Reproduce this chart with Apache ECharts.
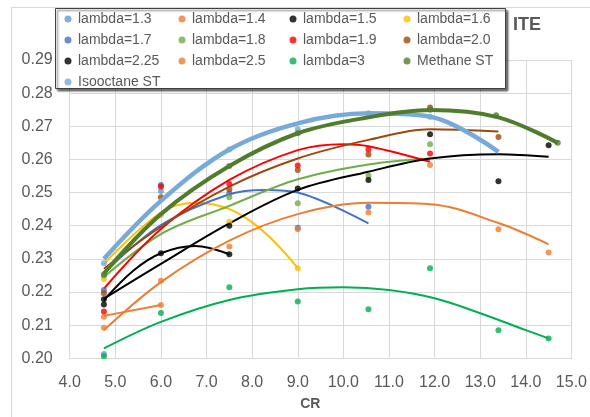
<!DOCTYPE html>
<html>
<head>
<meta charset="utf-8">
<script src="https://cdn.jsdelivr.net/npm/echarts@6/dist/echarts.min.js"></script>
<style>html,body{margin:0;padding:0;background:#fff;}#c{width:590px;height:417px;}</style>
</head>
<body>
<div id="c"></div>
<script>
// ---- tick labels ----
const xTicks = [4.0,5.0,6.0,7.0,8.0,9.0,10.0,11.0,12.0,13.0,14.0,15.0];
const yTicks = [0.20,0.21,0.22,0.23,0.24,0.25,0.26,0.27,0.28,0.29];

// ---- measured points [CR, ITE] ----
const lambda13 = [[4.75,0.2013],[6.0,0.2505]];
const lambda14 = [[4.75,0.2125],[6.0,0.2161]];
const lambda15 = [[4.75,0.2178],[6.0,0.2317],[7.5,0.2314]];
const lambda16 = [[4.75,0.2239],[6.0,0.2432],[7.5,0.2412],[9.0,0.2272]];
const lambda17 = [[4.75,0.2206],[6.0,0.2523],[7.5,0.2498],[9.0,0.2394],[10.55,0.2457]];
const lambda18 = [[4.75,0.2250],[7.5,0.2486],[9.0,0.2468],[10.55,0.2551],[11.9,0.2646]];
const lambda19 = [[4.75,0.2141],[6.0,0.2518],[7.5,0.2526],[9.0,0.2582],[10.55,0.2630],[11.9,0.2618]];
const lambda20 = [[4.75,0.2196],[6.0,0.2486],[7.5,0.2510],[9.0,0.2568],[10.55,0.2615],[11.9,0.2757],[13.4,0.2668]];
const lambda225 = [[4.75,0.2162],[7.5,0.2400],[9.0,0.2512],[10.55,0.2538],[11.9,0.2676],[13.4,0.2534],[14.5,0.2643]];
const lambda25 = [[4.75,0.2092],[6.0,0.2234],[7.5,0.2337],[9.0,0.2389],[10.55,0.2440],[11.9,0.2583],[13.4,0.2389],[14.5,0.2319]];
const lambda3 = [[4.75,0.2006],[6.0,0.2137],[7.5,0.2214],[9.0,0.2171],[10.55,0.2148],[11.9,0.2272],[13.4,0.2085],[14.5,0.2060]];
const isoST = [[4.75,0.2287],[7.5,0.2630],[9.0,0.2691],[10.55,0.2739],[11.9,0.2729]];
const methST = [[4.75,0.2253],[7.5,0.2580],[9.0,0.2679],[11.9,0.2750],[13.35,0.2733],[14.7,0.2650]];

// ---- trendlines [CR, ITE] ----
const trend14 = [[4.75,0.2128],[6.0,0.2161]];
const trend15 = [[4.75,0.2176],[5.4,0.2265],[6.0,0.2317],[6.75,0.2339],[7.5,0.2314]];
const trend16 = [[4.75,0.2285],[6.0,0.2440],[6.8,0.2469],[7.5,0.2450],[8.0,0.2410],[8.5,0.2350],[9.0,0.2272]];
const trend17 = [[4.75,0.2258],[6.0,0.2402],[7.5,0.2495],[8.3,0.2508],[9.0,0.2500],[10.55,0.2407]];
const trend18 = [[4.75,0.2245],[6.0,0.2375],[7.5,0.2460],[9.0,0.2540],[10.55,0.2585],[11.9,0.2603]];
const trend19 = [[4.75,0.2210],[6.0,0.2390],[7.5,0.2538],[9.0,0.2628],[10.0,0.2646],[10.55,0.2640],[11.9,0.2593]];
const trend20 = [[4.75,0.2270],[6.0,0.2397],[7.5,0.2518],[9.0,0.2603],[10.55,0.2659],[11.9,0.2691],[13.4,0.2684]];
const trend225 = [[4.75,0.2180],[6.0,0.2285],[7.5,0.2407],[9.0,0.2508],[10.55,0.2563],[11.9,0.2603],[13.4,0.2616],[14.5,0.2608]];
const trend25 = [[4.75,0.2085],[6.0,0.2230],[7.5,0.2355],[9.0,0.2435],[10.55,0.2469],[11.9,0.2465],[13.4,0.2408],[14.5,0.2344]];
const trend3 = [[4.75,0.2030],[6.0,0.2110],[7.5,0.2176],[9.0,0.2208],[10.0,0.2214],[11.0,0.2206],[12.0,0.2181],[13.0,0.2136],[14.0,0.2085],[14.5,0.2060]];
const trendIso = [[4.75,0.2300],[6.0,0.2475],[7.5,0.2630],[9.0,0.2709],[10.55,0.2739],[11.9,0.2729],[13.4,0.2623]];
const trendMeth = [[4.75,0.2256],[6.0,0.2435],[7.5,0.2580],[9.0,0.2679],[10.55,0.2727],[11.9,0.2749],[13.4,0.2727],[14.7,0.2650]];

const C = {
  l13:'#5B9BD5', l14:'#ED7D31', l15:'#000000', l16:'#FFC000', l17:'#4472C4', l18:'#70AD47',
  l19:'#FF0000', l20:'#9E480E', l225:'#000000', l25:'#ED7D31', l3:'#00B050', iso:'#75AADB', meth:'#4F7D2C'
};

function pts(name, data, color, z) {
  return {type:'scatter', name:name, data:data, symbol:'circle', symbolSize:6,
          itemStyle:{color:color}, z:z||3, silent:true};
}
function fit(name, data, color, width, z, smooth) {
  return {type:'line', name:name+' fit', data:data, showSymbol:false, symbol:'none',
          smooth: smooth===undefined ? 0.35 : smooth,
          lineStyle:{color:color, width:width}, z:z||2, silent:true};
}

const series = [
  pts('lambda=1.3', lambda13, C.l13),
  pts('lambda=1.4', lambda14, C.l14), fit('lambda=1.4', trend14, C.l14, 2, 2, false),
  pts('lambda=1.5', lambda15, C.l15), fit('lambda=1.5', trend15, C.l15, 2),
  pts('lambda=1.6', lambda16, C.l16), fit('lambda=1.6', trend16, C.l16, 2),
  pts('lambda=1.7', lambda17, C.l17), fit('lambda=1.7', trend17, C.l17, 2),
  pts('lambda=1.8', lambda18, C.l18), fit('lambda=1.8', trend18, C.l18, 2),
  pts('lambda=1.9', lambda19, C.l19), fit('lambda=1.9', trend19, C.l19, 2),
  pts('lambda=2.0', lambda20, C.l20), fit('lambda=2.0', trend20, C.l20, 2),
  pts('lambda=2.25', lambda225, C.l225), fit('lambda=2.25', trend225, C.l225, 2),
  pts('lambda=2.5', lambda25, C.l25), fit('lambda=2.5', trend25, C.l25, 2),
  pts('lambda=3', lambda3, C.l3), fit('lambda=3', trend3, C.l3, 2),
  pts('Isooctane ST', isoST, C.iso, 4), fit('Isooctane ST', trendIso, C.iso, 4.5, 4),
  pts('Methane ST', methST, C.meth, 5), fit('Methane ST', trendMeth, C.meth, 4, 5)
];

const legendCols = [
  {left:64.5, names:['lambda=1.3','lambda=1.7','lambda=2.25','Isooctane ST']},
  {left:178.5, names:['lambda=1.4','lambda=1.8','lambda=2.5']},
  {left:289.5, names:['lambda=1.5','lambda=1.9','lambda=3']},
  {left:403.5, names:['lambda=1.6','lambda=2.0','Methane ST']}
];

const font = 'Liberation Sans, Arial, sans-serif';
const chart = echarts.init(document.getElementById('c'), null, {renderer:'canvas'});
chart.setOption({
  animation:false,
  backgroundColor:'#fff',
  grid:{left:69.7, right:15.7, top:60, bottom:58.7, containLabel:false},
  xAxis:{type:'value', min:xTicks[0], max:xTicks[xTicks.length-1], interval:1,
    axisLine:{show:true, lineStyle:{color:'#d9d9d9', width:1}},
    axisTick:{show:false},
    axisLabel:{margin:16, color:'#595959', fontSize:16, fontFamily:font,
      formatter:function(v){return v.toFixed(1);}},
    splitLine:{show:true, lineStyle:{color:'#d9d9d9', width:1}}},
  yAxis:{type:'value', min:yTicks[0], max:yTicks[yTicks.length-1], interval:0.01,
    axisLine:{show:false}, axisTick:{show:false},
    axisLabel:{margin:17, color:'#595959', fontSize:16, fontFamily:font,
      formatter:function(v){return v.toFixed(2);}},
    splitLine:{show:true, lineStyle:{color:'#d9d9d9', width:1}}},
  legend: legendCols.map(function(c){
    return {data:c.names, orient:'vertical', left:c.left, top:12, padding:0,
      icon:'circle', itemWidth:7, itemHeight:7, itemGap:7, z:20,
      textStyle:{color:'#595959', fontSize:14, fontFamily:font, lineHeight:14, padding:[0,0,0,1.5]},
      selectedMode:false};
  }),
  graphic:[
    {type:'rect', z:0, silent:true, shape:{x:11.5, y:7.5, width:700, height:600},
     style:{fill:'none', stroke:'#d9d9d9', lineWidth:1}},
    {type:'rect', z:10, silent:true, shape:{x:55.5, y:8.5, width:450, height:80},
     style:{fill:'#fff', stroke:'#404040', lineWidth:1, shadowBlur:2, shadowOffsetX:2, shadowOffsetY:2, shadowColor:'rgba(0,0,0,0.55)'}},
    {type:'text', z:10, left:513, top:16, style:{text:'ITE', fill:'#595959', font:'bold 18px '+font}},
    {type:'text', z:10, x:310.3, y:404.3, style:{text:'CR', fill:'#595959', font:'bold 14px '+font, textAlign:'center', textVerticalAlign:'middle'}}
  ],
  series: series
});
</script>
</body>
</html>
